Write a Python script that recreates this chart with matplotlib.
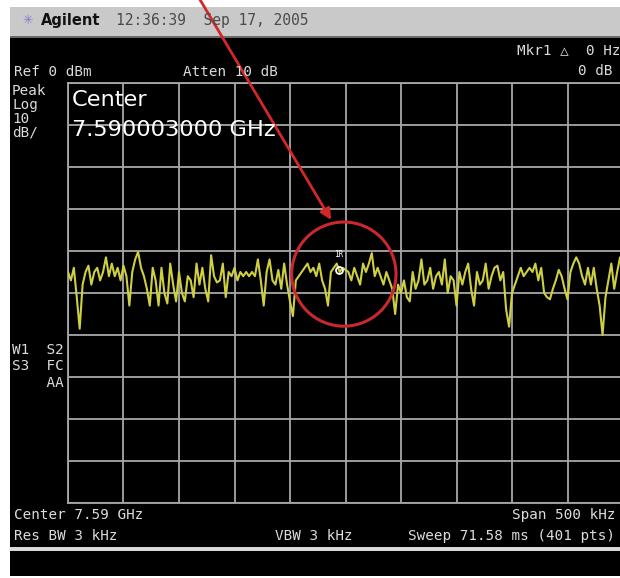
import numpy as np
import matplotlib
matplotlib.use("Agg")
import matplotlib.pyplot as plt
from matplotlib.patches import Rectangle, Ellipse

W, H = 620, 578

# analyzer settings shown on screen
center_ghz = 7.59
span_khz = 500
ref_dbm = 0
db_per_div = 10
marker_khz = -6

# swept trace, dBm, left to right across the span
trace_dbm = [
    -45, -47, -44, -51, -58.5, -48, -45, -43.5, -48, -45, -44, -47, -45, -41.5, -46, -43,
    -46, -44, -47, -43.5, -46, -53, -45, -42, -40.2, -44, -46, -49, -53, -44, -47, -53,
    -44, -50, -52.5, -43, -48, -52, -45, -50, -52, -46, -47, -51, -43, -48, -44, -49,
    -52, -41, -46, -47.5, -47, -43, -51, -45, -46, -44, -47, -45, -46, -45, -46, -45,
    -46, -42, -47, -53, -45, -42, -47, -48, -44.5, -49, -43, -48, -52, -55.5, -47, -46,
    -45, -44, -43, -45, -44, -46, -43, -47, -49, -53, -45, -44, -43, -45, -44,
    -44.5, -45, -47, -44, -46, -48, -43, -45, -43, -40.5, -46, -44, -46, -48, -45, -47,
    -49, -55, -48, -50, -47, -51, -52, -45, -49, -47, -42, -48, -47, -44, -49, -46,
    -45, -48, -42, -50, -46, -47, -53, -45, -48, -45, -43, -49, -53, -45, -48, -47,
    -43, -49, -46, -44, -43.5, -47, -45, -54, -58, -50, -48, -46, -44, -46, -45, -44,
    -45, -43, -47, -44, -50, -51, -51.5, -49, -47, -44.5, -46, -49, -51.5, -45, -43, -41.5,
    -43, -46, -48, -44, -48, -44, -49, -53, -60, -51, -47, -43, -49, -45, -41.5, -44,
]
freq_khz = np.linspace(-span_khz / 2, span_khz / 2, len(trace_dbm))

fig = plt.figure(figsize=(W / 100, H / 100), dpi=100)
fig.patch.set_facecolor("white")


def px(x, y):
    return x / W, 1 - y / H


# screen frame: title bar, black display, status line
bg = fig.add_axes([0, 0, 1, 1])
bg.set_xlim(0, W)
bg.set_ylim(H, 0)
bg.axis("off")
bg.add_patch(Rectangle((10, 37), 612, 539, fc="black", ec="none"))
bg.add_patch(Rectangle((10, 7), 612, 30, fc="#c9c9c9", ec="none"))
bg.add_patch(Rectangle((10, 36), 612, 2, fc="#6a6a6a", ec="none"))
bg.add_patch(Rectangle((10, 547), 612, 4, fc="#d9d9d9", ec="none"))

# title bar
fig.text(*px(22, 21), "\u2733", color="#7d7dd0", fontsize=9, va="center")
fig.text(*px(41, 21), "Agilent", color="#111111", fontsize=10.5, fontweight="bold",
         family="DejaVu Sans", va="center")
fig.text(*px(116, 21), "12:36:39  Sep 17, 2005", color="#4a4a4a", fontsize=10.5,
         family="DejaVu Sans Mono", va="center")

# graticule and trace
ax = fig.add_axes([68 / W, 1 - 503 / H, 555 / W, 420 / H])
ax.set_facecolor("none")
ax.set_xlim(-span_khz / 2, span_khz / 2)
ax.set_ylim(ref_dbm - 10 * db_per_div, ref_dbm)
ax.set_xticks(np.arange(-span_khz / 2, span_khz / 2 + 1, span_khz / 10))
ax.set_yticks(np.arange(ref_dbm - 10 * db_per_div, ref_dbm + 1, db_per_div))
ax.tick_params(length=0, labelbottom=False, labelleft=False)
ax.grid(True, color="#a8a8a8", lw=1.3)
for s in ax.spines.values():
    s.set_color("#a8a8a8")
    s.set_linewidth(1.3)

ax.plot(freq_khz, trace_dbm, color="#cfcf42", lw=1.5, zorder=3)

# reference marker
mk_db = np.interp(marker_khz, freq_khz, trace_dbm)
ax.plot(marker_khz, mk_db, "o", ms=5, mfc="none", mec="white", mew=1.3, zorder=4)
ax.text(marker_khz, mk_db + 3.6, "1R", color="white", fontsize=5.5, ha="center",
        va="center", family="DejaVu Sans Mono", zorder=4)

# highlight around the marker
ax.add_patch(Ellipse((-1.5, -45.5), 94, 24.8, fill=False, ec="#c8282e", lw=2.2,
                     zorder=5, clip_on=False))
ax.annotate("", xy=(-13, -32.6), xycoords="data",
            xytext=(199, H + 2), textcoords="figure pixels",
            arrowprops=dict(arrowstyle="-|>", color="#d42828", lw=2,
                            mutation_scale=16, shrinkA=0, shrinkB=0),
            annotation_clip=False, zorder=6)

# on-screen annotations
txt = dict(color="#dcdcdc", fontsize=10.3, family="DejaVu Sans Mono", va="center")
fig.text(*px(14, 72), "Ref 0 dBm", **txt)
fig.text(*px(183, 72), "Atten 10 dB", **txt)
fig.text(*px(517, 50), "Mkr1 \u25b3  0 Hz", **txt)
fig.text(*px(613, 71), "0 dB", ha="right", **txt)
for y, s in zip([91, 105, 119, 133], ["Peak", "Log", "10", "dB/"]):
    fig.text(*px(12, y), s, **txt)
fig.text(*px(12, 350), "W1  S2", **txt)
fig.text(*px(12, 366), "S3  FC", **txt)
fig.text(*px(12, 383), "    AA", **txt)

big = dict(color="white", fontsize=16.2, family="DejaVu Sans", va="center")
fig.text(*px(72, 100), "Center", **big)
fig.text(*px(72, 130), "7.590003000 GHz", **big)

fig.text(*px(14, 515), "Center %.2f GHz" % center_ghz, **txt)
fig.text(*px(14, 536), "Res BW 3 kHz", **txt)
fig.text(*px(275, 536), "VBW 3 kHz", **txt)
fig.text(*px(615, 515), "Span %d kHz" % span_khz, ha="right", **txt)
fig.text(*px(615, 536), "Sweep 71.58 ms (401 pts)", ha="right", **txt)

fig.savefig("out.png", dpi=100, facecolor=fig.get_facecolor())
